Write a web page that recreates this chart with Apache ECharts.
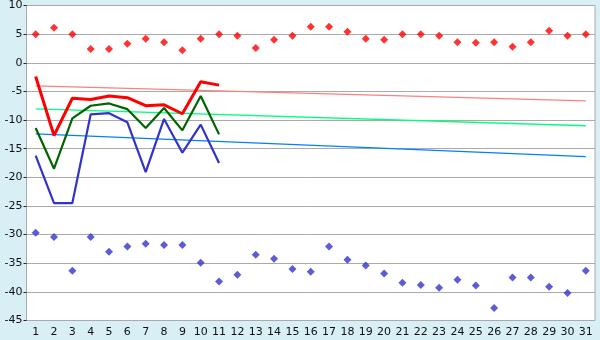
<!DOCTYPE html>
<html><head><meta charset="utf-8">
<script src="https://cdn.jsdelivr.net/npm/echarts@6/dist/echarts.min.js"></script>
<style>html,body{margin:0;padding:0;background:#d9eff6;}#c{width:600px;height:340px;}</style>
</head><body><div id="c"></div>
<script>
var days = ['1','2','3','4','5','6','7','8','9','10','11','12','13','14','15','16','17','18','19','20','21','22','23','24','25','26','27','28','29','30','31'];
var yTicks = [-45,-40,-35,-30,-25,-20,-15,-10,-5,0,5,10];
var redDots = [5.0,6.1,5.0,2.4,2.4,3.3,4.2,3.6,2.2,4.2,5.0,4.7,2.6,4.0,4.7,6.3,6.3,5.4,4.2,4.0,5.0,5.0,4.7,3.6,3.5,3.6,2.8,3.6,5.6,4.7,5.0];
var blueDots = [-29.7,-30.4,-36.3,-30.4,-33.0,-32.1,-31.6,-31.8,-31.8,-34.9,-38.2,-37.0,-33.5,-34.2,-36.0,-36.5,-32.1,-34.4,-35.4,-36.8,-38.4,-38.8,-39.3,-37.9,-38.9,-42.8,-37.5,-37.5,-39.1,-40.2,-36.3];
var redLine = [-2.4,-12.7,-6.2,-6.4,-5.8,-6.1,-7.5,-7.35,-8.9,-3.3,-3.9];
var greenLine = [-11.4,-18.5,-9.7,-7.5,-7.1,-8.1,-11.4,-7.9,-11.8,-5.8,-12.5];
var blueLine = [-16.2,-24.5,-24.5,-9.0,-8.8,-10.4,-19.1,-9.8,-15.7,-10.8,-17.5];
var pinkTrend = [-4.05, -6.65];
var greenTrend = [-8.05, -11.0];
var blueTrend = [-12.4, -16.4];

function ends(pair){ var a = days.map(function(){return null;}); a[0]=pair[0]; a[days.length-1]=pair[1]; return a; }

var chart = echarts.init(document.getElementById('c'));
var txt = {color:'#111', fontFamily:'DejaVu Sans', fontSize:11};
chart.setOption({
  animation:false,
  backgroundColor:'#d9eff6',
  grid:{left:26.5,right:5,top:5,bottom:19.5,show:true,backgroundColor:'#fff',borderColor:'#aaa',borderWidth:1},
  xAxis:{type:'category',data:days,boundaryGap:true,
    axisLine:{lineStyle:{color:'#aaa'}},
    axisTick:{alignWithLabel:true,length:5,lineStyle:{color:'#222'}},
    axisLabel:Object.assign({margin:6,interval:0},txt),
    splitLine:{show:false}},
  yAxis:{type:'value',min:yTicks[0],max:yTicks[yTicks.length-1],interval:5,
    axisLine:{show:true,lineStyle:{color:'#aaa'}},
    axisTick:{show:true,length:3,lineStyle:{color:'#222'}},
    axisLabel:Object.assign({margin:4,formatter:function(v){return String(v);}},txt),
    splitLine:{lineStyle:{color:'#aaa',width:1}}},
  series:[
    {type:'line',data:ends(pinkTrend),connectNulls:true,showSymbol:false,symbol:'none',lineStyle:{color:'#ff7f7f',width:1.3}},
    {type:'line',data:ends(greenTrend),connectNulls:true,showSymbol:false,symbol:'none',lineStyle:{color:'#00ff7f',width:1.3}},
    {type:'line',data:ends(blueTrend),connectNulls:true,showSymbol:false,symbol:'none',lineStyle:{color:'#007fff',width:1.3}},
    {type:'line',data:redLine,symbol:'none',lineStyle:{color:'#ff0000',width:3}},
    {type:'line',data:greenLine,symbol:'none',lineStyle:{color:'#006400',width:2.2}},
    {type:'line',data:blueLine,symbol:'none',lineStyle:{color:'#3333cc',width:2.2}},
    {type:'scatter',data:redDots,symbol:'diamond',symbolSize:8,itemStyle:{color:'#ff0000'}},
    {type:'scatter',data:blueDots,symbol:'diamond',symbolSize:8,itemStyle:{color:'#3333cc'}}
  ]
});
</script></body></html>
